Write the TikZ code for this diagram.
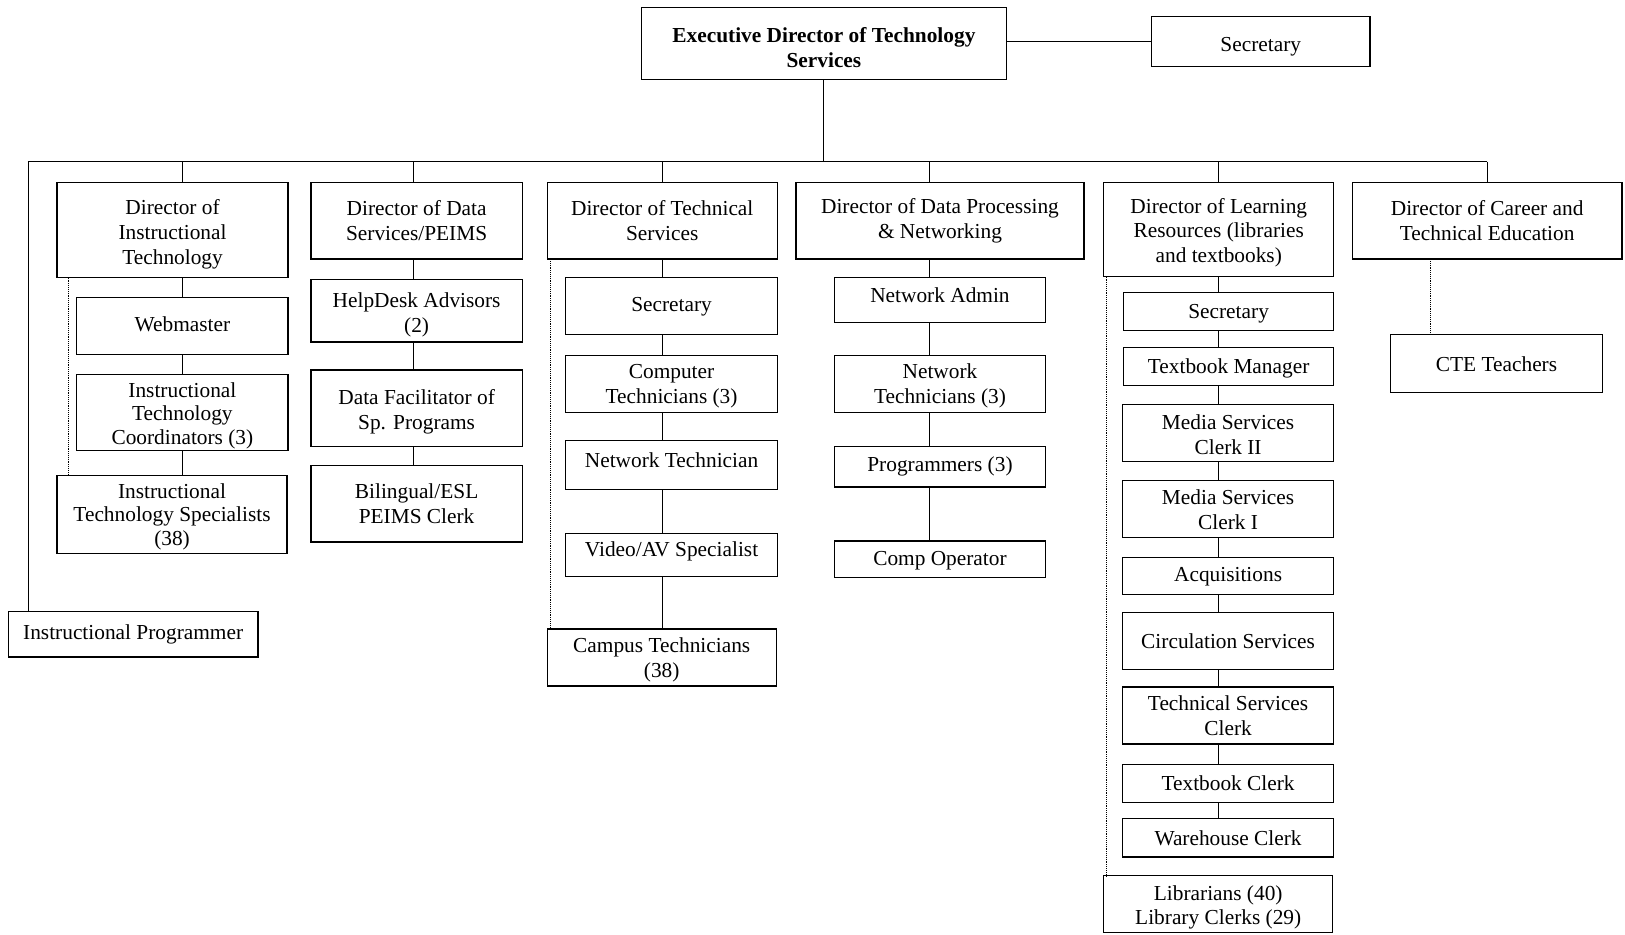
\documentclass[tikz,border=0pt]{standalone}
\usepackage{fontspec}
\setmainfont{Liberation Serif}
% \orgbox[text opts]{name}{x1}{y1}{x2}{y2}{text}: a box given by its corners,
% with its text set as a separate node at the box centre
\newcommand{\orgbox}[7][]{%
  \pgfmathsetmacro\obw{#5-(#3)}%
  \pgfmathsetmacro\obh{#6-(#4)}%
  \node[orgnode,minimum width=\obw pt,minimum height=\obh pt] (#2) at ({(#3+#5)/2},{(#4+#6)/2}) {};
  \node[orgtext,#1] (#2-t) at (#2.center) {#7};}
\begin{document}
\begin{tikzpicture}[x=1pt,y=-1pt,
  orgnode/.style={draw=black,line width=1.2pt,inner sep=0pt,outer sep=0pt},
  orgtext/.style={inner sep=0pt,align=center,font=\fontsize{20.6}{24}\selectfont},
  tighttext/.style={font=\fontsize{20.6}{22.5}\selectfont},
  headnode/.style={font=\fontsize{20.6}{24}\selectfont\bfseries},
  link/.style={draw=black,line width=0.9pt},
  dotlink/.style={draw=black,line width=0.8pt,densely dotted}]
\useasboundingbox (0,0) rectangle (1568,902);

% top level
\orgbox[headnode,yshift=-4pt]{exec}{619}{7}{971}{77}{Executive Director of Technology\\Services}
\orgbox[yshift=-5pt]{esec}{1111}{16}{1322}{64}{Secretary}

% instructional technology
\orgbox[yshift=-4pt]{dit}{55}{176}{278}{268}{Director of\\Instructional\\Technology}
\orgbox[yshift=2pt]{web}{74}{287}{278}{342}{Webmaster}
\orgbox[tighttext,yshift=-3pt]{itc}{74}{361}{278}{435}{Instructional\\Technology\\Coordinators (3)}
\orgbox[tighttext,yshift=-2pt]{its}{55}{459}{277}{534}{Instructional\\Technology Specialists\\(38)}
\orgbox{iprog}{8}{590}{249}{634}{Instructional Programmer}

% data services
\orgbox{dds}{300}{176}{504}{250}{Director of Data\\Services/PEIMS}
\orgbox[yshift=-4pt]{help}{300}{270}{504}{330}{HelpDesk Advisors\\(2)}
\orgbox[yshift=-3pt]{dfac}{300}{357}{504}{431}{Data Facilitator of\\Sp. Programs}
\orgbox{bil}{300}{449}{504}{523}{Bilingual/ESL\\PEIMS Clerk}

% technical services
\orgbox{dts}{528}{176}{750}{250}{Director of Technical\\Services}
\orgbox{tsec}{546}{268}{750}{323}{Secretary}
\orgbox[yshift=-2pt]{ctech}{546}{343}{750}{398}{Computer\\Technicians (3)}
\orgbox[yshift=4pt]{ntech}{546}{425}{750}{472}{Network Technician}
\orgbox[yshift=3pt]{vav}{546}{515}{750}{556}{Video/AV Specialist}
\orgbox[yshift=-2pt]{camp}{528}{607}{749}{662}{Campus Technicians\\(38)}

% data processing and networking
\orgbox{ddp}{768}{176}{1046}{250}{Director of Data Processing\\\& Networking}
\orgbox[yshift=5pt]{nadm}{805}{268}{1009}{311}{Network Admin}
\orgbox[yshift=-2pt]{ntechs}{805}{343}{1009}{398}{Network\\Technicians (3)}
\orgbox{prog}{805}{431}{1009}{470}{Programmers (3)}
\orgbox[yshift=-2pt]{comp}{805}{522}{1009}{557}{Comp Operator}

% learning resources
\orgbox[yshift=-3pt]{dlr}{1065}{176}{1287}{267}{Director of Learning\\Resources (libraries\\and textbooks)}
\orgbox[yshift=-2pt]{lsec}{1084}{282}{1287}{319}{Secretary}
\orgbox[yshift=-2pt]{tbm}{1084}{335}{1287}{372}{Textbook Manager}
\orgbox[yshift=-2pt]{msc2}{1083}{390}{1287}{445}{Media Services\\Clerk II}
\orgbox{msc1}{1083}{464}{1287}{519}{Media Services\\Clerk I}
\orgbox{acq}{1083}{538}{1287}{574}{Acquisitions}
\orgbox{circ}{1083}{591}{1287}{646}{Circulation Services}
\orgbox{tsc}{1083}{663}{1287}{718}{Technical Services\\Clerk}
\orgbox{tbc}{1083}{738}{1287}{774}{Textbook Clerk}
\orgbox{whc}{1083}{790}{1287}{827}{Warehouse Clerk}
\orgbox[yshift=-3pt]{lib}{1065}{845}{1286}{900}{Librarians (40)\\Library Clerks (29)}

% career and technical education
\orgbox{dcte}{1305}{176}{1565}{250}{Director of Career and\\Technical Education}
\orgbox{cte}{1342}{323}{1546}{379}{CTE Teachers}

% bus and column spines
\coordinate (busL) at (27,156);
\coordinate (busR) at (1435,156);
\coordinate (sp1) at (176,156);
\coordinate (sp2) at (399,156);
\coordinate (sp3) at (639,156);
\coordinate (sp4) at (897,156);
\coordinate (sp5) at (1176,156);
\coordinate (dt1) at (66,0);
\coordinate (dt3) at (531,0);
\coordinate (dt5) at (1068,0);
\coordinate (dt6) at (1380,0);

\draw[link] (esec.west) -- (esec.west -| exec.east);
\draw[link] (exec.south) -- (exec.south |- busL);
\draw[link] (busL) -- (busR);
\draw[link] (busL) -- (busL |- iprog.north);

% column 1
\draw[link] (sp1) -- (sp1 |- dit.north);
\draw[link] (sp1 |- dit.south) -- (sp1 |- web.north);
\draw[link] (sp1 |- web.south) -- (sp1 |- itc.north);
\draw[link] (sp1 |- itc.south) -- (sp1 |- its.north);
\draw[dotlink] (dt1 |- dit.south) -- (dt1 |- its.north);

% column 2
\draw[link] (sp2) -- (sp2 |- dds.north);
\draw[link] (sp2 |- dds.south) -- (sp2 |- help.north);
\draw[link] (sp2 |- help.south) -- (sp2 |- dfac.north);
\draw[link] (sp2 |- dfac.south) -- (sp2 |- bil.north);

% column 3
\draw[link] (sp3) -- (sp3 |- dts.north);
\draw[link] (sp3 |- dts.south) -- (sp3 |- tsec.north);
\draw[link] (sp3 |- tsec.south) -- (sp3 |- ctech.north);
\draw[link] (sp3 |- ctech.south) -- (sp3 |- ntech.north);
\draw[link] (sp3 |- ntech.south) -- (sp3 |- vav.north);
\draw[link] (sp3 |- vav.south) -- (sp3 |- camp.north);
\draw[dotlink] (dt3 |- dts.south) -- (dt3 |- camp.north);

% column 4
\draw[link] (sp4) -- (sp4 |- ddp.north);
\draw[link] (sp4 |- ddp.south) -- (sp4 |- nadm.north);
\draw[link] (sp4 |- nadm.south) -- (sp4 |- ntechs.north);
\draw[link] (sp4 |- ntechs.south) -- (sp4 |- prog.north);
\draw[link] (sp4 |- prog.south) -- (sp4 |- comp.north);

% column 5
\draw[link] (sp5) -- (sp5 |- dlr.north);
\draw[link] (sp5 |- dlr.south) -- (sp5 |- lsec.north);
\draw[link] (sp5 |- lsec.south) -- (sp5 |- tbm.north);
\draw[link] (sp5 |- tbm.south) -- (sp5 |- msc2.north);
\draw[link] (sp5 |- msc2.south) -- (sp5 |- msc1.north);
\draw[link] (sp5 |- msc1.south) -- (sp5 |- acq.north);
\draw[link] (sp5 |- acq.south) -- (sp5 |- circ.north);
\draw[link] (sp5 |- circ.south) -- (sp5 |- tsc.north);
\draw[link] (sp5 |- tsc.south) -- (sp5 |- tbc.north);
\draw[link] (sp5 |- tbc.south) -- (sp5 |- whc.north);
\draw[dotlink] (dt5 |- dlr.south) -- (dt5 |- lib.north);

% column 6
\draw[link] (busR) -- (busR |- dcte.north);
\draw[dotlink] (dt6 |- dcte.south) -- (dt6 |- cte.north);
\end{tikzpicture}
\end{document}
